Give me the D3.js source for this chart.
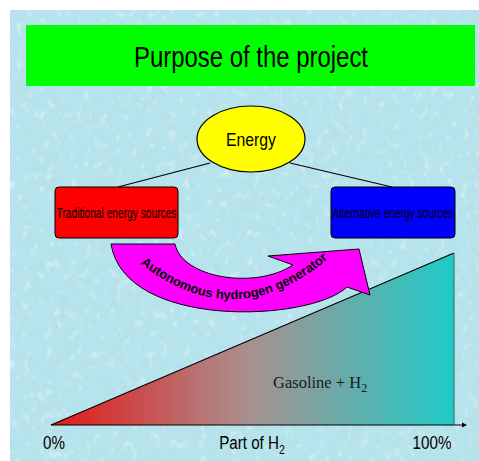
<!DOCTYPE html>
<html>
<head>
<meta charset="utf-8">
<script src="https://cdn.jsdelivr.net/npm/d3@7"></script>
<style>
  html, body { margin: 0; padding: 0; background: #ffffff; }
  svg { display: block; }
</style>
</head>
<body>
<svg id="chart" width="479" height="461"></svg>
<script>
// ---- content ----
const titleText = "Purpose of the project";
const rootLabel = "Energy";
const sourceLabels = ["Traditional energy sources", "Alternative energy sources"];
const generatorLabel = "Autonomous hydrogen generator";
const mixtureLabel = ["Gasoline + H", "2"];
const axisLabel = ["Part of H", "2"];
// share of hydrogen in the fuel mixture, percent
const partOfH2 = [0, 100];
const h2Share = [0, 100];
const tickValues = [0, 100];
const tickLabels = ["0%", "100%"];

const svg = d3.select("#chart");
const W = 479, H = 461;
const sans = "'Liberation Sans', Arial, sans-serif";
const condense = 0.82; // narrow face emulated by horizontal scaling

// ---- defs: water texture and gradient ----
const defs = svg.append("defs");
const water = defs.append("filter").attr("id", "water")
  .attr("x", 0).attr("y", 0).attr("width", "100%").attr("height", "100%");
water.append("feTurbulence").attr("type", "fractalNoise")
  .attr("baseFrequency", "0.10 0.08").attr("numOctaves", 3).attr("seed", 7).attr("result", "n");
water.append("feColorMatrix").attr("in", "n").attr("type", "matrix")
  .attr("values", "0 0 0 0 0.45  0 0 0 0 0.74  0 0 0 0 0.80  3.2 0 0 0 -1.55")
  .attr("result", "dark");
water.append("feTurbulence").attr("type", "fractalNoise")
  .attr("baseFrequency", "0.13 0.10").attr("numOctaves", 2).attr("seed", 21).attr("result", "n2");
water.append("feColorMatrix").attr("in", "n2").attr("type", "matrix")
  .attr("values", "0 0 0 0 1  0 0 0 0 1  0 0 0 0 1  3.0 0 0 0 -1.7")
  .attr("result", "light");
water.append("feMerge").call(m => {
  m.append("feMergeNode").attr("in", "dark");
  m.append("feMergeNode").attr("in", "light");
});

const grad = defs.append("linearGradient").attr("id", "mix")
  .attr("x1", "0%").attr("x2", "100%").attr("y1", "0%").attr("y2", "0%");
grad.append("stop").attr("offset", "0%").attr("stop-color", "#e51616");
grad.append("stop").attr("offset", "48%").attr("stop-color", "#ab8e8e");
grad.append("stop").attr("offset", "100%").attr("stop-color", "#1ecbc7");

// ---- background panel ----
svg.append("rect").attr("x", 10).attr("y", 10).attr("width", W - 10).attr("height", H - 10)
  .attr("fill", "#b6e3ec");
svg.append("rect").attr("x", 10).attr("y", 10).attr("width", W - 10).attr("height", H - 10)
  .attr("fill", "#fff").attr("filter", "url(#water)").attr("opacity", 0.45);

// ---- title bar ----
svg.append("rect").attr("x", 26).attr("y", 25).attr("width", 449).attr("height", 61)
  .attr("fill", "#00ff00");
svg.append("text").attr("x", 251).attr("y", 67).attr("text-anchor", "middle")
  .attr("font-family", sans).attr("font-size", 29)
  .attr("textLength", 234).attr("lengthAdjust", "spacingAndGlyphs")
  .text(titleText);

// ---- hierarchy: Energy -> sources ----
const root = { x: 251, y: 139, rx: 54, ry: 33 };
const boxes = [
  { x: 55, y: 187, w: 123, h: 51, fill: "#ff0000" },
  { x: 331, y: 187, w: 124, h: 51, fill: "#0000ff" }
];
const linkEnds = [
  { from: [210, 163], to: [118, 187] },
  { from: [290, 163], to: [392, 187] }
];
svg.selectAll("line.link").data(linkEnds).join("line").attr("class", "link")
  .attr("x1", d => d.from[0]).attr("y1", d => d.from[1])
  .attr("x2", d => d.to[0]).attr("y2", d => d.to[1])
  .attr("stroke", "#000").attr("stroke-width", 1.2);

svg.append("ellipse").attr("cx", root.x).attr("cy", root.y).attr("rx", root.rx).attr("ry", root.ry)
  .attr("fill", "#ffff00").attr("stroke", "#000").attr("stroke-width", 1.2);
svg.append("text").attr("x", root.x).attr("y", 146).attr("text-anchor", "middle")
  .attr("font-family", sans).attr("font-size", 19)
  .attr("textLength", 50).attr("lengthAdjust", "spacingAndGlyphs")
  .text(rootLabel);

const boxG = svg.selectAll("g.src").data(sourceLabels).join("g").attr("class", "src");
boxG.append("rect")
  .attr("x", (d, i) => boxes[i].x).attr("y", (d, i) => boxes[i].y)
  .attr("width", (d, i) => boxes[i].w).attr("height", (d, i) => boxes[i].h)
  .attr("rx", 4).attr("ry", 4)
  .attr("fill", (d, i) => boxes[i].fill).attr("stroke", "#000").attr("stroke-width", 1);
// box captions squeezed horizontally to fit the box width
boxG.append("text")
  .attr("text-anchor", "middle").attr("font-family", sans).attr("font-size", 14)
  .text(d => d)
  .attr("transform", function (d, i) {
    const natural = this.getComputedTextLength();
    const k = (boxes[i].w - 3) / natural;
    return `translate(${boxes[i].x + boxes[i].w / 2},218) scale(${k},1)`;
  });

// ---- scales for the hydrogen share chart ----
const x = d3.scaleLinear().domain([0, 100]).range([51, 454]);
const y = d3.scaleLinear().domain([0, 100]).range([425, 253]);

// gradient wedge: area under the share line
const pts = partOfH2.map((p, i) => ({ p, s: h2Share[i] }));
const area = d3.area().x(d => x(d.p)).y0(y(0)).y1(d => y(d.s));
svg.append("path").datum(pts).attr("d", area)
  .attr("fill", "url(#mix)");
svg.append("path").datum(pts)
  .attr("d", d3.line().x(d => x(d.p)).y(d => y(d.s)))
  .attr("fill", "none").attr("stroke", "#000").attr("stroke-width", 1.1);
svg.append("line")
  .attr("x1", x(100)).attr("x2", x(100)).attr("y1", y(100)).attr("y2", y(0))
  .attr("stroke", "#1a6f6c").attr("stroke-width", 1);

// axis with arrow
svg.append("line").attr("x1", x(0)).attr("x2", x(100) + 9).attr("y1", y(0)).attr("y2", y(0))
  .attr("stroke", "#000").attr("stroke-width", 1.2);
svg.append("path")
  .attr("d", `M${x(100) + 13},${y(0)} l-5,-2.5 l0,5 z`).attr("fill", "#000");

// tick labels (condensed)
svg.selectAll("text.tick").data(tickValues).join("text").attr("class", "tick")
  .attr("transform", d => `translate(${d === 0 ? x(d) + 3 : x(d) - 22},449) scale(${condense},1)`)
  .attr("text-anchor", "middle")
  .attr("font-family", sans).attr("font-size", 18.5)
  .text((d, i) => tickLabels[i]);

// axis title with subscript
const at = svg.append("text")
  .attr("transform", `translate(252,449) scale(${condense},1)`).attr("text-anchor", "middle")
  .attr("font-family", sans).attr("font-size", 18.5);
at.append("tspan").text(axisLabel[0]);
at.append("tspan").attr("dy", 5).attr("font-size", 13).text(axisLabel[1]);

// mixture label
const ml = svg.append("text").attr("x", 273).attr("y", 388)
  .attr("font-family", "'Liberation Serif', 'Times New Roman', serif").attr("font-size", 16.5)
  .attr("fill", "#1a1a1a");
ml.append("tspan").text(mixtureLabel[0]);
ml.append("tspan").attr("dy", 4).attr("font-size", 12).text(mixtureLabel[1]);

// ---- curved arrow: autonomous hydrogen generator ----
const arrowPath = [
  "M111,244", "L175,244",
  "C182,278 255,290 293,265",
  "L268,256", "L359,249", "L370,295", "L347,287",
  "C310,322 125,330 111,244", "Z"
].join(" ");
svg.append("path").attr("d", arrowPath)
  .attr("fill", "#ff00ff").attr("stroke", "#000").attr("stroke-width", 1);

defs.append("path").attr("id", "genCurve")
  .attr("d", "M130,255 Q234,346 338,250");
svg.append("text")
  .attr("font-family", sans).attr("font-weight", "bold")
  .attr("font-size", 13).attr("fill", "#000")
  .append("textPath").attr("href", "#genCurve").attr("startOffset", "50%")
  .attr("text-anchor", "middle")
  .text(generatorLabel);
</script>
</body>
</html>
